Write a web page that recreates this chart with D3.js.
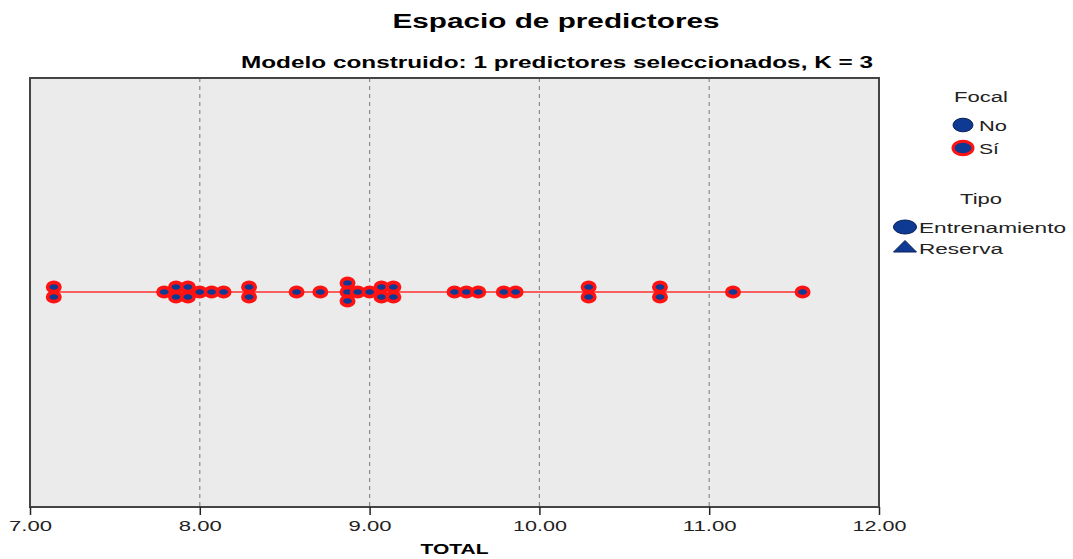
<!DOCTYPE html>
<html>
<head>
<meta charset="utf-8">
<script src="https://cdn.jsdelivr.net/npm/d3@7"></script>
<style>
  body { margin: 0; background: #fff; }
  text { font-family: "Liberation Sans", Arial, sans-serif; }
</style>
</head>
<body>
<div id="chart"></div>
<script>
// valores de TOTAL (registros focales, entrenamiento)
var totals = [7.14, 7.14, 7.79, 7.86, 7.86, 7.93, 7.93, 8.00, 8.07, 8.14, 8.29, 8.29,
  8.57, 8.71, 8.87, 8.87, 8.87, 8.93, 9.00, 9.07, 9.07, 9.14, 9.14,
  9.50, 9.57, 9.64, 9.79, 9.86, 10.29, 10.29, 10.71, 10.71, 11.14, 11.55];
var xTicks = [7, 8, 9, 10, 11, 12];
var focalLegend = ["No", "Sí"];
var tipoLegend = ["Entrenamiento", "Reserva"];

var W = 1073, H = 559,
  m = {left: 30, right: 194, top: 78, bottom: 52},
  pw = W - m.left - m.right, ph = H - m.top - m.bottom,
  blue = "#0f3a94", red = "#ff1212";

// el original esta estirado en horizontal: ajustar ancho de cada texto
function fit(sel, w) {
  sel.attr("textLength", w).attr("lengthAdjust", "spacingAndGlyphs");
  return sel;
}

var svg = d3.select("#chart").append("svg").attr("width", W).attr("height", H);

fit(svg.append("text").attr("x", 556).attr("y", 28).attr("text-anchor", "middle")
  .style("font-size", "20px").style("font-weight", "bold").text("Espacio de predictores"), 327);
fit(svg.append("text").attr("x", 557).attr("y", 68).attr("text-anchor", "middle")
  .style("font-size", "16.5px").style("font-weight", "bold")
  .text("Modelo construido: 1 predictores seleccionados, K = 3"), 632);

var x = d3.scaleLinear().domain([7, 12]).range([0, pw]);
var g = svg.append("g").attr("transform", "translate(" + m.left + "," + m.top + ")");

g.append("rect").attr("width", pw).attr("height", ph).style("fill", "#ebebeb");

// lineas de rejilla
g.selectAll(".grid").data(xTicks.slice(1, -1)).enter().append("line")
  .attr("x1", function(d) { return x(d); }).attr("x2", function(d) { return x(d); })
  .attr("y1", 0).attr("y2", ph)
  .style("stroke", "#8a8a8a").style("stroke-width", 1.2).style("stroke-dasharray", "4 4");

var cy = 214;
g.append("line").attr("x1", x(d3.min(totals))).attr("x2", x(d3.max(totals)))
  .attr("y1", cy).attr("y2", cy).style("stroke", "#ff3030").style("stroke-width", 1.5);

// apilar valores repetidos
var groups = d3.groups(totals, function(d) { return d; });
var pts = [];
var offs = {1: [0], 2: [-5, 5], 3: [-9, 0, 9]};
groups.forEach(function(gr) {
  var n = gr[1].length;
  gr[1].forEach(function(v, i) { pts.push({v: v, dy: offs[n][i]}); });
});

g.selectAll(".pt").data(pts).enter().append("ellipse")
  .attr("cx", function(d) { return x(d.v); })
  .attr("cy", function(d) { return cy + d.dy; })
  .attr("rx", 6.2).attr("ry", 4.6)
  .style("fill", blue).style("stroke", red).style("stroke-width", 3.6);

// marco
g.append("rect").attr("width", pw).attr("height", ph)
  .style("fill", "none").style("stroke", "#444").style("stroke-width", 2);

var axis = g.append("g").attr("transform", "translate(0," + ph + ")")
  .call(d3.axisBottom(x).tickValues(xTicks).tickSize(8).tickFormat(d3.format(".2f")));
axis.select(".domain").remove();
axis.selectAll("line").style("stroke", "#222").style("stroke-width", 1.5);
axis.selectAll("text").style("font-size", "15px").style("fill", "#222")
  .style("font-family", "'Liberation Sans', Arial, sans-serif").attr("dy", "0.85em")
  .each(function(d) { fit(d3.select(this), d >= 10 ? 54 : 43); });

fit(svg.append("text").attr("x", m.left + pw / 2).attr("y", 554).attr("text-anchor", "middle")
  .style("font-size", "14px").style("font-weight", "bold").text("TOTAL"), 68);

// leyenda
var lg = svg.append("g");
fit(lg.append("text").attr("x", 981).attr("y", 102).attr("text-anchor", "middle")
  .style("font-size", "15.5px").style("fill", "#222").text("Focal"), 54);
var focalW = [28, 20];
focalLegend.forEach(function(t, i) {
  var yy = 125 + i * 23;
  lg.append("ellipse").attr("cx", 963).attr("cy", yy).attr("rx", 10).attr("ry", 6.8)
    .style("fill", blue).style("stroke", i ? red : "#0a1f55").style("stroke-width", i ? 3 : 1);
  fit(lg.append("text").attr("x", 979).attr("y", yy + 6).style("font-size", "15.5px")
    .style("fill", "#222").text(t), focalW[i]);
});
fit(lg.append("text").attr("x", 981).attr("y", 204).attr("text-anchor", "middle")
  .style("font-size", "15.5px").style("fill", "#222").text("Tipo"), 42);
var tipoW = [147, 84];
tipoLegend.forEach(function(t, i) {
  var yy = 227 + i * 21;
  if (i === 0) {
    lg.append("ellipse").attr("cx", 905).attr("cy", yy).attr("rx", 11.5).attr("ry", 7)
      .style("fill", blue).style("stroke", "#0a1f55").style("stroke-width", 1);
  } else {
    lg.append("path").attr("transform", "translate(905," + (yy - 1) + ")")
      .attr("d", "M0,-6.5L11.5,5L-11.5,5Z").style("fill", blue).style("stroke", "#0a1f55");
  }
  fit(lg.append("text").attr("x", 919).attr("y", yy + 6).style("font-size", "15.5px")
    .style("fill", "#222").text(t), tipoW[i]);
});
</script>
</body>
</html>
